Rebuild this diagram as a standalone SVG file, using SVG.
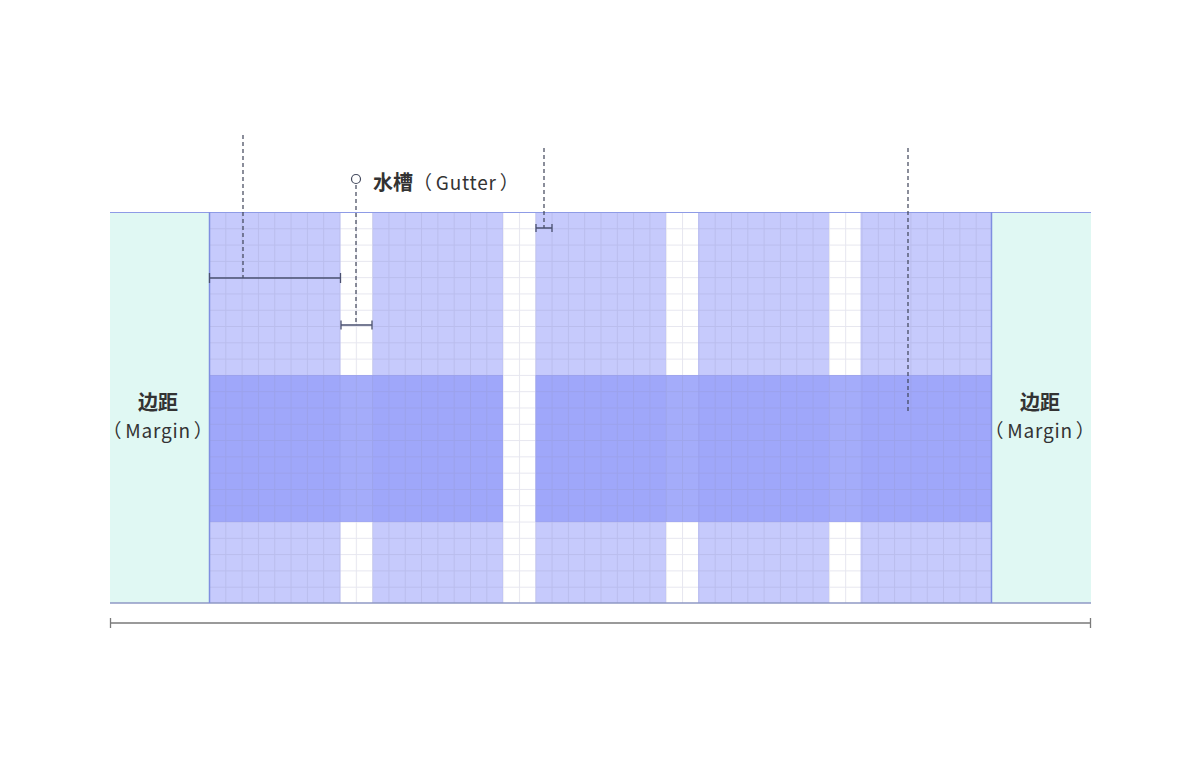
<svg xmlns="http://www.w3.org/2000/svg" width="1200" height="765" viewBox="0 0 1200 765">
  <style>
    .col { fill: #c6cafc; }
    .margin { fill: #e0f8f3; }
    .band { fill: #9aa3fa; opacity: 0.9; }
    .dash { stroke: #3e4358; stroke-width: 1.2; stroke-dasharray: 4 3; fill: none; }
    .dim { stroke: #4a5070; stroke-width: 1.3; fill: none; }
    .label { font-family: "Noto Sans CJK SC", "Noto Sans", sans-serif; font-size: 19px; fill: #333333; text-spacing-trim: space-all; letter-spacing: 0.8px; }
    .bold { font-weight: bold; font-size: 20px; letter-spacing: 0px; }
  </style>
  <defs>
    <pattern id="grid" patternUnits="userSpaceOnUse" x="209" y="212" width="16.3125" height="16.2917">
      <path d="M0.5 0V16.3M0 0.5H16.4" stroke="#8c8fb8" stroke-opacity="0.22" stroke-width="1" fill="none"/>
    </pattern>
  </defs>
  <rect width="1200" height="765" fill="#ffffff"/>

  <g id="margin-left">
    <rect class="margin" x="110" y="212" width="99.5" height="391"/>
    <text class="label bold" x="158" y="410" text-anchor="middle">边距</text>
    <text class="label" x="158" y="438" text-anchor="middle">（<tspan dx="3">Margin</tspan><tspan dx="3">）</tspan></text>
  </g>
  <g id="margin-right">
    <rect class="margin" x="991.5" y="212" width="99.5" height="391"/>
    <text class="label bold" x="1040" y="410" text-anchor="middle">边距</text>
    <text class="label" x="1040" y="438" text-anchor="middle">（<tspan dx="3">Margin</tspan><tspan dx="3">）</tspan></text>
  </g>

  <g id="columns">
    <rect class="col" x="209" y="212" width="131.5" height="391"/>
    <rect class="col" x="372.5" y="212" width="130.5" height="391"/>
    <rect class="col" x="535.5" y="212" width="130.5" height="391"/>
    <rect class="col" x="698" y="212" width="131" height="391"/>
    <rect class="col" x="860.5" y="212" width="131.5" height="391"/>
  </g>

  <g id="band">
    <rect class="band" x="209" y="375" width="294" height="147"/>
    <rect class="band" x="535.5" y="375" width="456.5" height="147"/>
  </g>

  <rect id="grid-overlay" x="209" y="212" width="783" height="391" fill="url(#grid)"/>

  <g id="borders">
    <line x1="110" y1="212.5" x2="1091" y2="212.5" stroke="#8e9be6" stroke-width="1.2"/>
    <line x1="110" y1="603" x2="1091" y2="603" stroke="#8f98c4" stroke-width="1.5"/>
    <line x1="209.5" y1="212" x2="209.5" y2="603" stroke="#7f8ee0" stroke-width="1.5"/>
    <line x1="991.5" y1="212" x2="991.5" y2="603" stroke="#7f8ee0" stroke-width="1.5"/>
  </g>

  <g id="connectors">
    <line class="dash" x1="243" y1="135" x2="243" y2="278"/>
    <line class="dash" x1="356" y1="185" x2="356" y2="325"/>
    <line class="dash" x1="544" y1="148" x2="544" y2="228"/>
    <line class="dash" x1="908" y1="148" x2="908" y2="412"/>
    <circle cx="356" cy="179" r="4.5" fill="#ffffff" stroke="#444a5e" stroke-width="1.2"/>

    <path class="dim" d="M209.5 278H340.5M209.5 273V283M340.5 273V283"/>
    <path class="dim" d="M341 325H372M341 320.5V329.5M372 320.5V329.5"/>
    <path class="dim" d="M536 228H552M536 224V232M552 224V232"/>
    <path d="M110.5 623H1090.5M110.5 618V628M1090.5 618V628" stroke="#7a7a7a" stroke-width="1.3" fill="none"/>
  </g>

  <g id="gutter-label">
    <text class="label" x="373" y="190"><tspan class="bold">水槽</tspan>（<tspan dx="3">Gutter</tspan><tspan dx="3">）</tspan></text>
  </g>
</svg>
